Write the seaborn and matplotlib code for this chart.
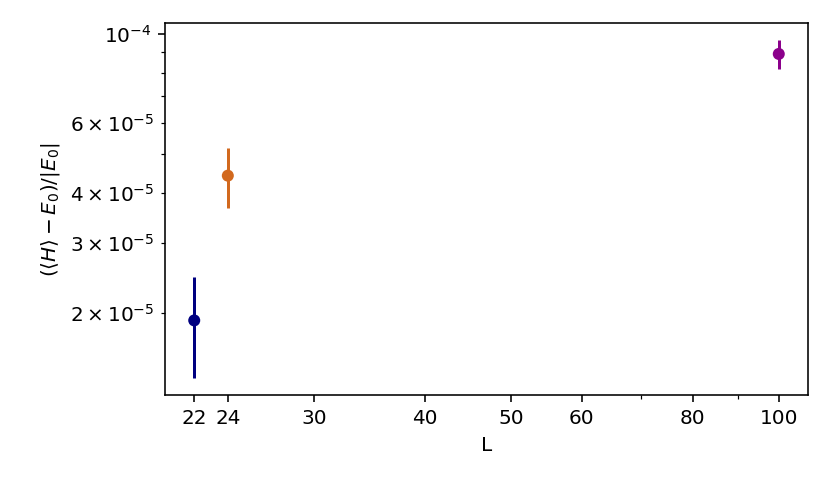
import numpy as np
import pandas as pd
import matplotlib
matplotlib.use('Agg')
import matplotlib.pyplot as plt
import matplotlib.ticker as mticker
import seaborn as sns

# system sizes, relative energy error and its uncertainty
L_vals = [22, 24, 100]
rel_err = [1.92e-5, 4.42e-5, 8.91e-5]
rel_err_sd = [0.545e-5, 0.76e-5, 0.735e-5]
colors = ['navy', 'chocolate', 'darkmagenta']
xtick_vals = [22, 24, 30, 40, 50, 60, 80, 100]

df = pd.DataFrame({'L': L_vals, 'err': rel_err, 'sd': rel_err_sd})

sns.set_style('ticks', rc={'text.color': 'black', 'axes.labelcolor': 'black',
                           'xtick.color': 'black', 'ytick.color': 'black',
                           'axes.edgecolor': 'black'})
plt.rcParams['font.family'] = ['DejaVu Sans']

fig = plt.figure(figsize=(830/144, 483/144), dpi=144)
ax = fig.add_axes([0.1988, 0.1816, 0.9735-0.1988, 0.9518-0.1816])

for i, row in df.iterrows():
    ax.errorbar(row['L'], row['err'], yerr=row['sd'], fmt='none', ecolor=colors[i],
                elinewidth=1.5)
sns.scatterplot(data=df, x='L', y='err', hue='L', palette=colors, s=36,
                edgecolor='none', linewidth=0, legend=False, ax=ax, zorder=3)

ax.set_xscale('log')
ax.set_yscale('log')
ax.set_xticks(xtick_vals)
ax.xaxis.set_major_formatter(mticker.ScalarFormatter())
ax.xaxis.set_minor_formatter(mticker.NullFormatter())
ax.set_xlabel('L')
ax.set_ylabel(r'$(\langle H\rangle - E_0)/|E_0|$')
for s in ax.spines.values():
    s.set_color('black')
    s.set_linewidth(0.8)

fig.savefig('out.png', dpi=144)
